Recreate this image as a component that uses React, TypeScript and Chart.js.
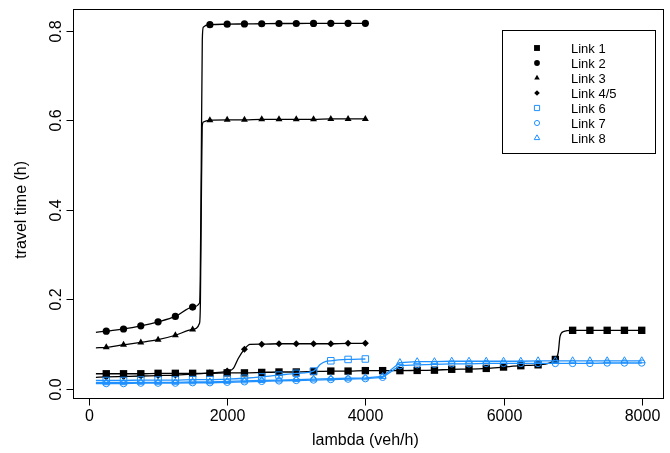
import React, { useEffect, useRef } from "react";
import { Chart, registerables } from "chart.js";

Chart.register(...registerables);

const BLACK = "#000000";
const BLUE = "#1E90FF";
const FONT = "'Liberation Sans', Arial, Helvetica, sans-serif";

const xTicks = [0, 2000, 4000, 6000, 8000];
const xTickLabels = ["0", "2000", "4000", "6000", "8000"];
const yTicks = [0, 0.2, 0.4, 0.6, 0.8];
const yTickLabels = ["0.0", "0.2", "0.4", "0.6", "0.8"];
const xTitle = "lambda (veh/h)";
const yTitle = "travel time (h)";
const legendLabels = ["Link 1", "Link 2", "Link 3", "Link 4/5", "Link 6", "Link 7", "Link 8"];

const xShort = [250, 500, 750, 1000, 1250, 1500, 1750, 2000, 2250, 2500, 2750, 3000, 3250, 3500, 3750, 4000];
const xLong = [250, 500, 750, 1000, 1250, 1500, 1750, 2000, 2250, 2500, 2750, 3000, 3250, 3500, 3750, 4000,
  4250, 4500, 4750, 5000, 5250, 5500, 5750, 6000, 6250, 6500, 6750, 7000, 7250, 7500, 7750, 8000];

const link1Y = [0.034, 0.034, 0.034, 0.035, 0.035, 0.035, 0.035, 0.036, 0.036, 0.037, 0.038, 0.038, 0.039, 0.040, 0.040, 0.041,
  0.041, 0.041, 0.0415, 0.042, 0.044, 0.0445, 0.046, 0.049, 0.052, 0.054, 0.066, 0.131, 0.131, 0.131, 0.131, 0.131];
const link2Y = [0.129, 0.134, 0.141, 0.150, 0.162, 0.183, 0.8134, 0.8145, 0.815, 0.8155, 0.816, 0.816, 0.8163, 0.8165, 0.8165, 0.8165];
const link3Y = [0.093, 0.099, 0.104, 0.110, 0.120, 0.133, 0.600, 0.601, 0.601, 0.602, 0.602, 0.602, 0.602, 0.603, 0.603, 0.603];
const link45Y = [0.027, 0.028, 0.029, 0.030, 0.031, 0.033, 0.036, 0.040, 0.089, 0.100, 0.101, 0.101, 0.101, 0.101, 0.102, 0.102];
const link6Y = [0.019, 0.019, 0.020, 0.020, 0.020, 0.021, 0.021, 0.022, 0.024, 0.027, 0.031, 0.035, 0.040, 0.063, 0.066, 0.067];
const link7Y = [0.012, 0.012, 0.013, 0.013, 0.013, 0.014, 0.014, 0.015, 0.016, 0.017, 0.018, 0.019, 0.020, 0.021, 0.022, 0.023,
  0.026, 0.052, 0.054, 0.055, 0.056, 0.056, 0.057, 0.057, 0.057, 0.057, 0.057, 0.057, 0.057, 0.058, 0.058, 0.058];
const link8Y = [0.014, 0.014, 0.015, 0.015, 0.015, 0.016, 0.016, 0.017, 0.018, 0.019, 0.020, 0.021, 0.022, 0.023, 0.024, 0.025,
  0.028, 0.059, 0.061, 0.061, 0.062, 0.062, 0.062, 0.062, 0.062, 0.063, 0.063, 0.063, 0.063, 0.063, 0.063, 0.063];

// extra points (between markers)
const link1KnotX = [100, 6793, 6817, 6865];
const link1KnotY = [0.034, 0.083, 0.117, 0.128];
const link2KnotX = [100, 1600, 1610, 1625, 1640, 1655];
const link2KnotY = [0.1265, 0.192, 0.24, 0.5, 0.78, 0.808];
const link3KnotX = [100, 1600, 1612, 1625, 1638, 1655];
const link3KnotY = [0.092, 0.147, 0.19, 0.4, 0.585, 0.596];
const link45KnotX = [100, 2090, 2160, 2330];
const link45KnotY = [0.026, 0.046, 0.068, 0.0995];
const link6KnotX = [100, 3300, 3350, 3420];
const link6KnotY = [0.019, 0.047, 0.055, 0.061];
const link7KnotX = [100];
const link7KnotY = [0.012];
const link8KnotX = [100];
const link8KnotY = [0.014];

type Style = "rect" | "circle" | "triangle" | "rectRot";
type Series = {
  label: string; xs: number[]; ys: number[]; kx: number[]; ky: number[];
  color: string; style: Style; r: number; filled: boolean; smooth: boolean;
};

const series: Series[] = [
  { label: legendLabels[0], xs: xLong, ys: link1Y, kx: link1KnotX, ky: link1KnotY, color: BLACK, style: "rect", r: 5.2, filled: true, smooth: true },
  { label: legendLabels[1], xs: xShort, ys: link2Y, kx: link2KnotX, ky: link2KnotY, color: BLACK, style: "circle", r: 3.6, filled: true, smooth: true },
  { label: legendLabels[2], xs: xShort, ys: link3Y, kx: link3KnotX, ky: link3KnotY, color: BLACK, style: "triangle", r: 4.0, filled: true, smooth: true },
  { label: legendLabels[3], xs: xShort, ys: link45Y, kx: link45KnotX, ky: link45KnotY, color: BLACK, style: "rectRot", r: 3.5, filled: true, smooth: true },
  { label: legendLabels[4], xs: xShort, ys: link6Y, kx: link6KnotX, ky: link6KnotY, color: BLUE, style: "rect", r: 4.6, filled: false, smooth: true },
  { label: legendLabels[5], xs: xLong, ys: link7Y, kx: link7KnotX, ky: link7KnotY, color: BLUE, style: "circle", r: 3.2, filled: false, smooth: false },
  { label: legendLabels[6], xs: xLong, ys: link8Y, kx: link8KnotX, ky: link8KnotY, color: BLUE, style: "triangle", r: 4.0, filled: false, smooth: false },
];

function drawSymbol(ctx: CanvasRenderingContext2D, style: Style, x: number, y: number, r: number, color: string, filled: boolean) {
  ctx.save();
  ctx.beginPath();
  if (style === "rect") {
    const s = r * Math.SQRT1_2;
    ctx.rect(x - s, y - s, 2 * s, 2 * s);
  } else if (style === "circle") {
    ctx.arc(x, y, r, 0, Math.PI * 2);
  } else if (style === "triangle") {
    for (let i = 0; i < 3; i++) {
      const a = (i * 2 * Math.PI) / 3;
      const px = x + Math.sin(a) * r;
      const py = y - Math.cos(a) * r;
      if (i === 0) ctx.moveTo(px, py); else ctx.lineTo(px, py);
    }
    ctx.closePath();
  } else {
    ctx.moveTo(x, y - r);
    ctx.lineTo(x + r, y);
    ctx.lineTo(x, y + r);
    ctx.lineTo(x - r, y);
    ctx.closePath();
  }
  if (filled) {
    ctx.fillStyle = color;
    ctx.fill();
  } else {
    ctx.strokeStyle = color;
    ctx.lineWidth = 1;
    ctx.stroke();
  }
  ctx.restore();
}

const axesPlugin = {
  id: "rAxes",
  beforeDatasetsDraw(chart: any) {
    const { ctx, chartArea: a, scales } = chart;
    const xs = scales.x;
    const ys = scales.y;
    ctx.save();
    ctx.strokeStyle = BLACK;
    ctx.lineWidth = 1;
    ctx.strokeRect(a.left - 0.5, a.top + 0.5, a.right - a.left + 1, a.bottom - a.top);
    ctx.fillStyle = BLACK;
    ctx.font = `16px ${FONT}`;
    // x ticks
    ctx.textAlign = "center";
    ctx.textBaseline = "alphabetic";
    xTicks.forEach((v, i) => {
      const px = Math.round(xs.getPixelForValue(v)) + 0.5;
      ctx.beginPath();
      ctx.moveTo(px, a.bottom + 0.5);
      ctx.lineTo(px, a.bottom + 7.5);
      ctx.stroke();
      ctx.fillText(xTickLabels[i], px, a.bottom + 23);
    });
    // y ticks
    yTicks.forEach((v, i) => {
      const py = Math.round(ys.getPixelForValue(v)) + 0.5;
      ctx.beginPath();
      ctx.moveTo(a.left - 0.5, py);
      ctx.lineTo(a.left - 7.5, py);
      ctx.stroke();
      ctx.save();
      ctx.translate(a.left - 13, py);
      ctx.rotate(-Math.PI / 2);
      ctx.fillText(yTickLabels[i], 0, 0);
      ctx.restore();
    });
    // titles
    ctx.fillText(xTitle, (xs.getPixelForValue(0) + xs.getPixelForValue(8000)) / 2, a.bottom + 47);
    ctx.save();
    ctx.translate(26, (ys.getPixelForValue(0) + ys.getPixelForValue(0.8)) / 2);
    ctx.rotate(-Math.PI / 2);
    ctx.fillText(yTitle, 0, 0);
    ctx.restore();
    ctx.restore();
  },
  afterDraw(chart: any) {
    const { ctx } = chart;
    ctx.save();
    ctx.strokeStyle = BLACK;
    ctx.lineWidth = 1;
    ctx.strokeRect(502.5, 30.5, 153, 123);
    ctx.font = `13px ${FONT}`;
    ctx.textAlign = "left";
    ctx.textBaseline = "middle";
    series.forEach((s, i) => {
      const y = 48 + i * 15;
      drawSymbol(ctx, s.style, 537, y, s.r * 0.8, s.color, s.filled);
      ctx.fillStyle = BLACK;
      ctx.fillText(s.label, 571, y + 1);
    });
    ctx.restore();
  },
};

export default function App() {
  const ref = useRef<HTMLCanvasElement>(null);
  useEffect(() => {
    const canvas = ref.current;
    if (!canvas) return;
    const pts = (xs: number[], ys: number[]) => xs.map((x, i) => ({ x, y: ys[i] }));
    const datasets: any[] = [];
    series.forEach((s, k) => {
      const curve = [...pts(s.xs, s.ys), ...pts(s.kx, s.ky)].sort((p, q) => p.x - q.x);
      datasets.push({
        type: "line",
        label: s.label + " curve",
        data: curve,
        borderColor: s.color,
        borderWidth: 1.3,
        pointRadius: 0,
        fill: false,
        tension: 0,
        cubicInterpolationMode: s.smooth ? "monotone" : "default",
        order: 100 - 2 * k,
      });
      datasets.push({
        type: "line",
        label: s.label,
        data: pts(s.xs, s.ys),
        showLine: false,
        pointStyle: s.style,
        pointRadius: s.r,
        pointHoverRadius: s.r,
        pointBorderColor: s.color,
        pointBackgroundColor: s.filled ? s.color : "rgba(0,0,0,0)",
        pointBorderWidth: s.filled ? 0 : 1,
        order: 100 - 2 * k - 1,
      });
    });
    const chart = new Chart(canvas, {
      type: "line",
      data: { datasets },
      options: {
        responsive: false,
        maintainAspectRatio: false,
        animation: false,
        devicePixelRatio: 1,
        events: [],
        layout: { padding: { left: 74, right: 7, top: 9, bottom: 55 } },
        plugins: { legend: { display: false }, tooltip: { enabled: false } },
        scales: {
          x: { type: "linear", min: -217, max: 8308, display: false },
          y: { type: "linear", min: -0.0201, max: 0.8484, display: false },
        },
      },
      plugins: [axesPlugin],
    } as any);
    return () => chart.destroy();
  }, []);
  return (
    <div style={{ position: "absolute", left: 0, top: 0, width: 670, height: 453, background: "#fff" }}>
      <canvas ref={ref} width={670} height={453} style={{ display: "block" }} />
    </div>
  );
}
